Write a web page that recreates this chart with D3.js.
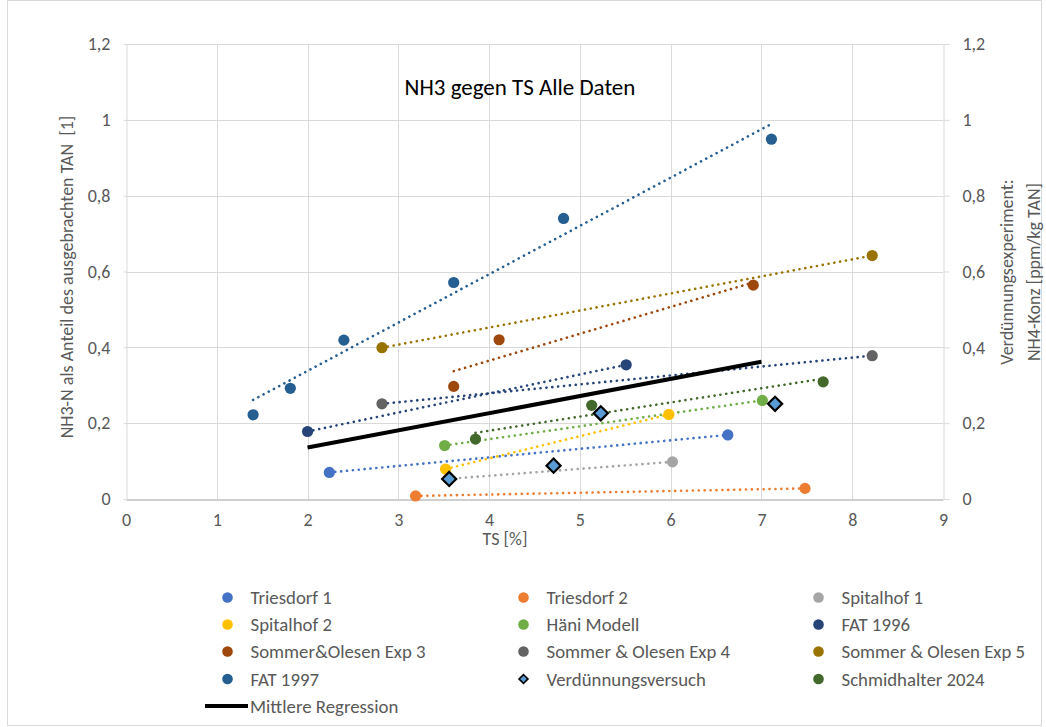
<!DOCTYPE html>
<html>
<head>
<meta charset="utf-8">
<script src="https://cdn.jsdelivr.net/npm/d3@7/dist/d3.min.js"></script>
<style>
  html, body { margin: 0; padding: 0; background: #fff; }
  svg { display: block; }
  text { font-family: Carlito, Lato, "Open Sans", sans-serif; }
</style>
</head>
<body>
<svg id="chart" width="1046" height="727"></svg>
<script>
// ---------- data ----------
const chartTitle = "NH3 gegen TS Alle Daten";
const xAxisTitle = "TS [%]";
const yAxisTitle = "NH3-N als Anteil des ausgebrachten TAN  [1]";
const y2AxisTitle = ["Verdünnungsexperiment:", "NH4-Konz [ppm/kg TAN]"];

const xTicks = [0, 1, 2, 3, 4, 5, 6, 7, 8, 9];
const xTickLabels = ["0", "1", "2", "3", "4", "5", "6", "7", "8", "9"];
const yTicks = [0, 0.2, 0.4, 0.6, 0.8, 1.0, 1.2];
const yTickLabels = ["0", "0,2", "0,4", "0,6", "0,8", "1", "1,2"];

const seriesNames = ["Triesdorf 1", "Triesdorf 2", "Spitalhof 1", "Spitalhof 2", "Häni Modell", "FAT 1996",
  "Sommer&Olesen Exp 3", "Sommer & Olesen Exp 4", "Sommer & Olesen Exp 5", "FAT 1997", "Verdünnungsversuch", "Schmidhalter 2024"];

const triesdorf1X = [2.24, 6.63],  triesdorf1Y = [0.070, 0.169];
const triesdorf2X = [3.19, 7.48],  triesdorf2Y = [0.008, 0.028];
const spitalhof1X = [3.55, 6.02],  spitalhof1Y = [0.053, 0.098];
const spitalhof2X = [3.52, 5.98],  spitalhof2Y = [0.079, 0.223];
const haeniX      = [3.51, 7.01],  haeniY      = [0.141, 0.260];
const fat1996X    = [2.00, 5.51],  fat1996Y    = [0.178, 0.354];
const so3X        = [3.61, 4.11, 6.91], so3Y = [0.297, 0.420, 0.564];
const so4X        = [2.82, 8.22],  so4Y        = [0.251, 0.378];
const so5X        = [2.82, 8.22],  so5Y        = [0.399, 0.642];
const fat1997X    = [1.40, 1.81, 2.40, 3.61, 4.82, 7.11];
const fat1997Y    = [0.222, 0.292, 0.419, 0.571, 0.740, 0.949];
const verdX       = [3.56, 4.71, 5.23, 7.15],  verdY = [0.053, 0.088, 0.226, 0.251];
const schmidX     = [3.85, 5.13, 7.68], schmidY = [0.158, 0.247, 0.309];

const meanRegName = "Mittlere Regression";
const meanRegX = [2, 7];
const meanRegY = [0.136, 0.362];

// ---------- styles ----------
const seriesColors = ["#4472C4", "#ED7D31", "#A5A5A5", "#FFC000", "#70AD47", "#264478",
  "#9E480E", "#636363", "#997300", "#255E91", "#5B9BD5", "#43682B"];
const trendColors = ["#4472C4", "#ED7D31", "#A5A5A5", "#FFC000", "#70AD47", "#264478",
  "#9E480E", "#264478", "#997300", "#255E91", null, "#43682B"];

const seriesX = [triesdorf1X, triesdorf2X, spitalhof1X, spitalhof2X, haeniX, fat1996X, so3X, so4X, so5X, fat1997X, verdX, schmidX];
const seriesY = [triesdorf1Y, triesdorf2Y, spitalhof1Y, spitalhof2Y, haeniY, fat1996Y, so3Y, so4Y, so5Y, fat1997Y, verdY, schmidY];
const series = seriesNames.map((n, i) => ({
  name: n, color: seriesColors[i], trend: trendColors[i],
  shape: n === "Verdünnungsversuch" ? "diamond" : "circle",
  pts: seriesX[i].map((x, j) => ({x, y: seriesY[i][j]}))
}));

const svg = d3.select("#chart");
const x = d3.scaleLinear().domain([0, 9]).range([126, 943]);
const y = d3.scaleLinear().domain([0, 1.2]).range([499, 44]);
const txtCol = "#595959";
const fs = 18;
const legFs = 18.8;

// outer border
svg.append("rect").attr("x", 7.5).attr("y", 0.5).attr("width", 1034).attr("height", 725)
  .attr("fill", "none").attr("stroke", "#d9d9d9");

// grid
svg.append("g").selectAll("line.h").data(yTicks.slice(1)).join("line")
  .attr("x1", x(0)).attr("x2", x(9)).attr("y1", d => Math.round(y(d)) + 0.5).attr("y2", d => Math.round(y(d)) + 0.5)
  .attr("stroke", "#d9d9d9").attr("stroke-width", 1);
svg.append("g").selectAll("line.v").data(xTicks.slice(1, -1)).join("line")
  .attr("x1", d => Math.round(x(d)) + 0.5).attr("x2", d => Math.round(x(d)) + 0.5).attr("y1", y(0)).attr("y2", y(1.2))
  .attr("stroke", "#d9d9d9").attr("stroke-width", 1);

// axes
const xAxis = svg.append("g").attr("transform", `translate(0,${Math.round(y(0)) + 0.5})`)
  .call(d3.axisBottom(x).tickValues(xTicks).tickFormat((d, i) => xTickLabels[i]).tickSize(0).tickPadding(14));
xAxis.select(".domain").attr("stroke", "#bfbfbf").attr("stroke-width", 1.5);
xAxis.selectAll("text").attr("fill", txtCol).style("font-size", fs + "px");

const yAxis = svg.append("g").attr("transform", `translate(${Math.round(x(0)) + 0.5},0)`)
  .call(d3.axisLeft(y).tickValues(yTicks).tickFormat((d, i) => yTickLabels[i]).tickSize(3).tickPadding(13).tickSizeOuter(0));
yAxis.select(".domain").attr("stroke", "#d9d9d9");
yAxis.selectAll(".tick line").attr("stroke", "#d9d9d9");
yAxis.selectAll("text").attr("fill", txtCol).style("font-size", fs + "px");

const y2Axis = svg.append("g").attr("transform", `translate(${Math.round(x(9)) + 0.5},0)`)
  .call(d3.axisRight(y).tickValues(yTicks).tickFormat((d, i) => yTickLabels[i]).tickSize(6).tickPadding(13).tickSizeOuter(0));
y2Axis.select(".domain").attr("stroke", "#d9d9d9");
y2Axis.selectAll(".tick line").attr("stroke", "#d9d9d9");
y2Axis.selectAll("text").attr("fill", txtCol).style("font-size", fs + "px");

// trendlines (least squares over each series' x range)
function linreg(pts) {
  const mx = d3.mean(pts, p => p.x), my = d3.mean(pts, p => p.y);
  const sxy = d3.sum(pts, p => (p.x - mx) * (p.y - my));
  const sxx = d3.sum(pts, p => (p.x - mx) ** 2);
  const b = sxy / sxx, a = my - b * mx;
  const [x0, x1] = d3.extent(pts, p => p.x);
  return [{x: x0, y: a + b * x0}, {x: x1, y: a + b * x1}];
}
const line = d3.line().x(d => x(d.x)).y(d => y(d.y));
const gTrend = svg.append("g");
series.forEach(s => {
  if (!s.trend) return;
  gTrend.append("path").attr("d", line(linreg(s.pts))).attr("fill", "none")
    .attr("stroke", s.trend).attr("stroke-width", 2.6).attr("stroke-linecap", "round")
    .attr("stroke-dasharray", "0.1 5.8");
});

// mean regression
const meanPts = meanRegX.map((v, i) => ({x: v, y: meanRegY[i]}));
svg.append("path").attr("d", line(meanPts)).attr("fill", "none").attr("stroke", "#000").attr("stroke-width", 4);

// markers
series.forEach(s => {
  if (s.shape !== "circle") return;
  svg.append("g").selectAll("circle").data(s.pts).join("circle")
    .attr("cx", d => x(d.x)).attr("cy", d => y(d.y)).attr("r", 5.6).attr("fill", s.color);
});
series.filter(s => s.shape === "diamond").forEach(s => {
  svg.append("g").selectAll("path").data(s.pts).join("path")
    .attr("d", d3.symbol().type(d3.symbolSquare).size(100)())
    .attr("transform", d => `translate(${x(d.x)},${y(d.y)}) rotate(45)`)
    .attr("fill", s.color).attr("stroke", "#000").attr("stroke-width", 2.2);
});

// titles
svg.append("text").attr("x", 520).attr("y", 95).attr("text-anchor", "middle")
  .attr("fill", "#000").style("font-size", "23px").text(chartTitle);
svg.append("text").attr("x", 505).attr("y", 545).attr("text-anchor", "middle")
  .attr("fill", txtCol).style("font-size", fs + "px").text(xAxisTitle);
svg.append("text").attr("transform", "translate(73,277) rotate(-90)").attr("text-anchor", "middle")
  .attr("fill", txtCol).style("font-size", fs + "px").style("white-space", "pre").text(yAxisTitle);
y2AxisTitle.forEach((t, i) => {
  svg.append("text").attr("transform", `translate(${1013 + i * 27},272) rotate(-90)`).attr("text-anchor", "middle")
    .attr("fill", txtCol).style("font-size", fs + "px").text(t);
});

// legend
const legCols = [227.5, 523.5, 818.5];
const legRows = [597.5, 624.5, 651.5, 679];
const leg = svg.append("g");
series.forEach((s, i) => {
  const cx = legCols[i % 3], cy = legRows[Math.floor(i / 3)];
  if (s.shape === "circle") {
    leg.append("circle").attr("cx", cx).attr("cy", cy).attr("r", 5.3).attr("fill", s.color);
  } else {
    leg.append("path").attr("d", d3.symbol().type(d3.symbolSquare).size(40)())
      .attr("transform", `translate(${cx},${cy}) rotate(45)`)
      .attr("fill", s.color).attr("stroke", "#000").attr("stroke-width", 1.6);
  }
  leg.append("text").attr("x", cx + 23).attr("y", cy).attr("dy", "0.35em")
    .attr("fill", txtCol).style("font-size", legFs + "px").text(s.name);
});
leg.append("line").attr("x1", 205).attr("x2", 248).attr("y1", 706).attr("y2", 706)
  .attr("stroke", "#000").attr("stroke-width", 4);
leg.append("text").attr("x", 250).attr("y", 706).attr("dy", "0.35em")
  .attr("fill", txtCol).style("font-size", legFs + "px").text(meanRegName);
</script>
</body>
</html>
